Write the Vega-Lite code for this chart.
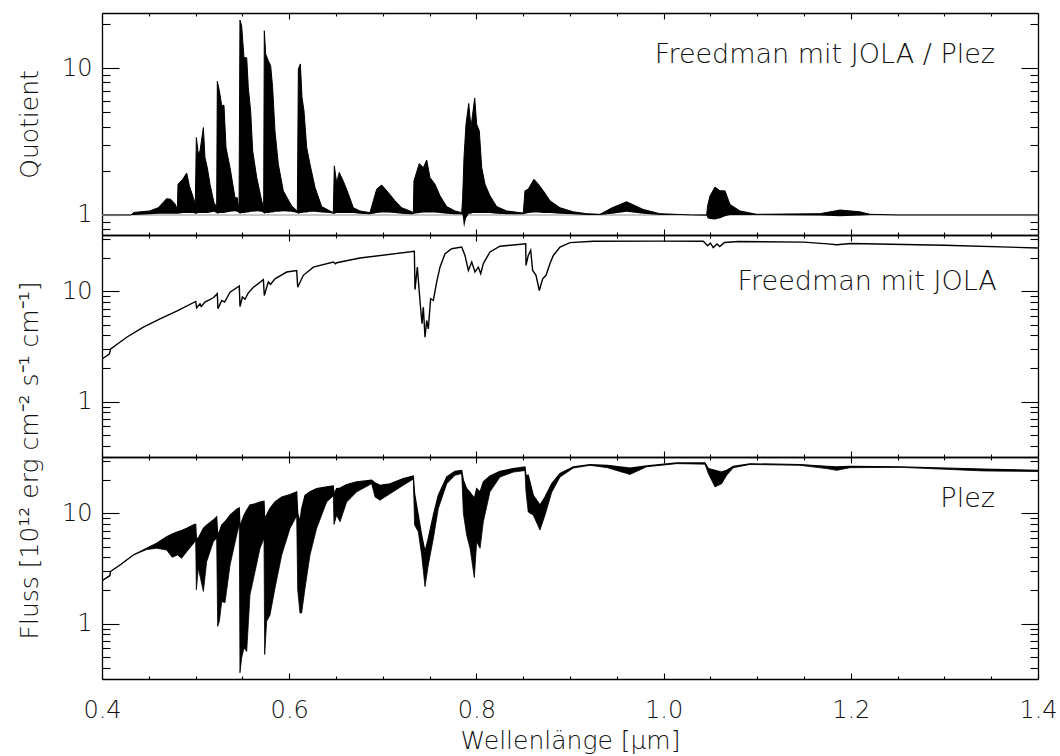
{
  "$schema": "https://vega.github.io/schema/vega-lite/v6.json",
  "background": "white",
  "padding": {"left": 16, "top": 12, "right": 5, "bottom": 5},
  "spacing": 0,
  "bounds": "flush",
  "config": {
    "view": {"stroke": null},
    "font": "DejaVu Sans",
    "axis": {"grid": false, "domainColor": "#000", "domainWidth": 1.3, "tickColor": "#000", "tickWidth": 1.1,
      "labelFont": "DejaVu Sans", "labelFontSize": 24, "labelFontWeight": 200, "labelColor": "#111",
      "titleFont": "DejaVu Sans", "titleFontSize": 25, "titleFontWeight": 200, "titleColor": "#111",
      "labelOverlap": false, "labelFlush": false}
  },
  "datasets": {
    "quot": [
      {"wl":0.4,"lo":1,"hi":1},{"wl":0.431,"lo":1,"hi":1},{"wl":0.434,"lo":1,"hi":1.04},{"wl":0.451,"lo":1.01,"hi":1.065},
      {"wl":0.46,"lo":1.02,"hi":1.12},{"wl":0.469,"lo":1.02,"hi":1.29},{"wl":0.4734,"lo":1.02,"hi":1.28},{"wl":0.478,"lo":1.02,"hi":1.19},
      {"wl":0.4805,"lo":1.02,"hi":1.09},{"wl":0.4812,"lo":1.02,"hi":1.62},{"wl":0.4862,"lo":1.03,"hi":1.75},{"wl":0.4905,"lo":1.03,"hi":1.93},
      {"wl":0.4933,"lo":1.03,"hi":1.58},{"wl":0.4976,"lo":1.03,"hi":1.31},{"wl":0.4997,"lo":1.02,"hi":1.19},{"wl":0.5008,"lo":1.02,"hi":3.37},
      {"wl":0.5029,"lo":1.03,"hi":2.6},{"wl":0.5047,"lo":1.03,"hi":2.73},{"wl":0.5083,"lo":1.03,"hi":3.94},{"wl":0.51,"lo":1.03,"hi":2.46},
      {"wl":0.5125,"lo":1.03,"hi":2.1},{"wl":0.5154,"lo":1.04,"hi":1.62},{"wl":0.5197,"lo":1.05,"hi":1.21},{"wl":0.5225,"lo":1.03,"hi":1.14},
      {"wl":0.5232,"lo":1.02,"hi":8.13},{"wl":0.5254,"lo":1.03,"hi":7.02},{"wl":0.5279,"lo":1.03,"hi":5.55},{"wl":0.5303,"lo":1.03,"hi":5.6},
      {"wl":0.5325,"lo":1.04,"hi":2.88},{"wl":0.5368,"lo":1.05,"hi":2.1},{"wl":0.5421,"lo":1.06,"hi":1.31},{"wl":0.5446,"lo":1.05,"hi":1.31},
      {"wl":0.5464,"lo":1.03,"hi":1.065},{"wl":0.5474,"lo":1.02,"hi":21.3},{"wl":0.5492,"lo":1.03,"hi":19.5},{"wl":0.5517,"lo":1.03,"hi":11.8},
      {"wl":0.5546,"lo":1.04,"hi":11.8},{"wl":0.5563,"lo":1.04,"hi":7.39},{"wl":0.5588,"lo":1.05,"hi":5.13},{"wl":0.561,"lo":1.05,"hi":2.73},
      {"wl":0.5653,"lo":1.06,"hi":1.8},{"wl":0.5706,"lo":1.05,"hi":1.25},{"wl":0.5727,"lo":1.03,"hi":1.12},{"wl":0.5734,"lo":1.02,"hi":18},
      {"wl":0.5749,"lo":1.03,"hi":12.5},{"wl":0.5777,"lo":1.03,"hi":11.25},{"wl":0.5802,"lo":1.04,"hi":10.4},{"wl":0.5823,"lo":1.04,"hi":7.39},
      {"wl":0.5848,"lo":1.05,"hi":3.74},{"wl":0.5884,"lo":1.05,"hi":2.22},{"wl":0.5937,"lo":1.06,"hi":1.46},{"wl":0.6027,"lo":1.05,"hi":1.15},
      {"wl":0.6087,"lo":1.03,"hi":1.065},{"wl":0.6098,"lo":1.02,"hi":9.87},{"wl":0.6119,"lo":1.03,"hi":10.7},{"wl":0.6137,"lo":1.03,"hi":6.31},
      {"wl":0.6158,"lo":1.04,"hi":5.13},{"wl":0.6187,"lo":1.04,"hi":2.88},{"wl":0.6222,"lo":1.05,"hi":2.22},{"wl":0.6276,"lo":1.05,"hi":1.54},
      {"wl":0.6347,"lo":1.04,"hi":1.14},{"wl":0.6436,"lo":1.03,"hi":1.065},{"wl":0.6471,"lo":1.02,"hi":1.037},{"wl":0.6482,"lo":1.02,"hi":2.16},
      {"wl":0.6507,"lo":1.03,"hi":1.66},{"wl":0.6535,"lo":1.03,"hi":1.95},{"wl":0.6578,"lo":1.03,"hi":1.7},{"wl":0.6631,"lo":1.03,"hi":1.4},
      {"wl":0.6685,"lo":1.03,"hi":1.12},{"wl":0.6756,"lo":1.02,"hi":1.065},{"wl":0.6863,"lo":1.01,"hi":1.037},{"wl":0.6899,"lo":1.02,"hi":1.25},
      {"wl":0.6935,"lo":1.03,"hi":1.5},{"wl":0.6988,"lo":1.04,"hi":1.6},{"wl":0.7059,"lo":1.04,"hi":1.42},{"wl":0.713,"lo":1.03,"hi":1.25},
      {"wl":0.7202,"lo":1.02,"hi":1.12},{"wl":0.729,"lo":1.01,"hi":1.065},{"wl":0.7326,"lo":1.01,"hi":1.037},{"wl":0.7333,"lo":1.02,"hi":1.71},
      {"wl":0.739,"lo":1.03,"hi":2.24},{"wl":0.7433,"lo":1.04,"hi":2.1},{"wl":0.7469,"lo":1.04,"hi":2.37},{"wl":0.7504,"lo":1.04,"hi":1.8},
      {"wl":0.7558,"lo":1.04,"hi":1.62},{"wl":0.7611,"lo":1.03,"hi":1.35},{"wl":0.7683,"lo":1.02,"hi":1.14},{"wl":0.7771,"lo":1.01,"hi":1.065},
      {"wl":0.7843,"lo":1.01,"hi":1.037},{"wl":0.7853,"lo":1,"hi":1.31},{"wl":0.7868,"lo":0.82,"hi":2.5},{"wl":0.7889,"lo":0.95,"hi":4.16},
      {"wl":0.7918,"lo":1.02,"hi":5.75},{"wl":0.7942,"lo":1.02,"hi":3.94},{"wl":0.796,"lo":1.03,"hi":4.87},{"wl":0.7982,"lo":1.03,"hi":6.26},
      {"wl":0.8003,"lo":1.03,"hi":4.16},{"wl":0.8031,"lo":1.03,"hi":3.74},{"wl":0.8057,"lo":1.03,"hi":2.1},{"wl":0.8092,"lo":1.03,"hi":1.62},
      {"wl":0.8145,"lo":1.03,"hi":1.35},{"wl":0.8217,"lo":1.02,"hi":1.14},{"wl":0.8324,"lo":1.01,"hi":1.065},{"wl":0.8501,"lo":1.01,"hi":1.03},
      {"wl":0.8519,"lo":1.02,"hi":1.46},{"wl":0.8554,"lo":1.03,"hi":1.5},{"wl":0.8615,"lo":1.04,"hi":1.75},{"wl":0.8662,"lo":1.04,"hi":1.62},
      {"wl":0.8715,"lo":1.03,"hi":1.46},{"wl":0.8786,"lo":1.03,"hi":1.25},{"wl":0.8893,"lo":1.02,"hi":1.12},{"wl":0.9036,"lo":1.01,"hi":1.05},
      {"wl":0.9178,"lo":1,"hi":1.02},{"wl":0.932,"lo":1,"hi":1.01},{"wl":0.945,"lo":1.02,"hi":1.12},{"wl":0.9605,"lo":1.05,"hi":1.23},
      {"wl":0.9783,"lo":1.02,"hi":1.09},{"wl":0.996,"lo":1,"hi":1.02},{"wl":1.03,"lo":1,"hi":1},{"wl":1.046,"lo":0.99,"hi":1},
      {"wl":1.047,"lo":0.95,"hi":1.15},{"wl":1.0496,"lo":0.94,"hi":1.35},{"wl":1.0549,"lo":0.93,"hi":1.55},{"wl":1.0603,"lo":0.95,"hi":1.46},
      {"wl":1.0656,"lo":0.98,"hi":1.46},{"wl":1.0709,"lo":1,"hi":1.18},{"wl":1.0816,"lo":1,"hi":1.065},{"wl":1.0995,"lo":1,"hi":1.01},
      {"wl":1.167,"lo":0.99,"hi":1.02},{"wl":1.1885,"lo":0.98,"hi":1.08},{"wl":1.2098,"lo":0.99,"hi":1.05},{"wl":1.2205,"lo":1,"hi":1.01},
      {"wl":1.25,"lo":1,"hi":1},{"wl":1.4,"lo":1,"hi":1}
    ],
    "jola": [
      {"wl":0.4,"f":2.44},{"wl":0.4078,"f":2.71},{"wl":0.4093,"f":3.01},{"wl":0.4264,"f":3.84},{"wl":0.4442,"f":4.74},
      {"wl":0.462,"f":5.65},{"wl":0.4798,"f":6.62},{"wl":0.5001,"f":8.11},{"wl":0.5011,"f":7.11},{"wl":0.5047,"f":7.73},
      {"wl":0.506,"f":7.3},{"wl":0.51,"f":8.0},{"wl":0.5189,"f":8.76},{"wl":0.5232,"f":9.53},{"wl":0.5239,"f":6.96},
      {"wl":0.5279,"f":8.28},{"wl":0.531,"f":8.0},{"wl":0.5368,"f":9.85},{"wl":0.5467,"f":11.2},{"wl":0.5474,"f":7.3},
      {"wl":0.55,"f":8.9},{"wl":0.5528,"f":8.5},{"wl":0.556,"f":9.6},{"wl":0.5617,"f":10.9},{"wl":0.5724,"f":12.8},
      {"wl":0.5734,"f":9.2},{"wl":0.5777,"f":12.2},{"wl":0.58,"f":11.6},{"wl":0.5848,"f":13.0},{"wl":0.5973,"f":15.0},
      {"wl":0.608,"f":15.5},{"wl":0.6091,"f":10.9},{"wl":0.6151,"f":14.0},{"wl":0.6258,"f":16.6},{"wl":0.6471,"f":18.5},
      {"wl":0.6495,"f":17.8},{"wl":0.6507,"f":18.2},{"wl":0.6756,"f":20.1},{"wl":0.7337,"f":23.1},{"wl":0.7344,"f":10.4},
      {"wl":0.7369,"f":16.6},{"wl":0.7397,"f":8.28},{"wl":0.7419,"f":5.09},{"wl":0.7433,"f":7.2},{"wl":0.7451,"f":3.84},
      {"wl":0.7469,"f":5.45},{"wl":0.7486,"f":4.58},{"wl":0.7511,"f":8.58},{"wl":0.754,"f":8.28},{"wl":0.7576,"f":12.2},
      {"wl":0.7611,"f":16.6},{"wl":0.7665,"f":22.0},{"wl":0.7736,"f":24.4},{"wl":0.7843,"f":25.3},{"wl":0.7878,"f":21.2},
      {"wl":0.7914,"f":15.5},{"wl":0.795,"f":18.5},{"wl":0.7985,"f":15.0},{"wl":0.8021,"f":16.6},{"wl":0.8046,"f":14.5},
      {"wl":0.8074,"f":17.9},{"wl":0.8145,"f":22.8},{"wl":0.8252,"f":25.7},{"wl":0.8527,"f":27.1},{"wl":0.853,"f":17.2},
      {"wl":0.8554,"f":21.2},{"wl":0.858,"f":23.6},{"wl":0.8601,"f":15.5},{"wl":0.8637,"f":14.0},{"wl":0.8672,"f":10.2},
      {"wl":0.8708,"f":13.0},{"wl":0.8744,"f":14.0},{"wl":0.8786,"f":17.9},{"wl":0.8822,"f":21.2},{"wl":0.8893,"f":25.3},
      {"wl":0.9,"f":27.7},{"wl":0.9249,"f":28.5},{"wl":0.9962,"f":28.6},{"wl":1.0424,"f":28.5},{"wl":1.047,"f":26.0},
      {"wl":1.05,"f":27.5},{"wl":1.053,"f":25.0},{"wl":1.057,"f":27.0},{"wl":1.06,"f":25.5},{"wl":1.065,"f":27.8},
      {"wl":1.08,"f":28.4},{"wl":1.15,"f":28.0},{"wl":1.175,"f":27.0},{"wl":1.185,"f":26.5},{"wl":1.2,"f":27.2},
      {"wl":1.3,"f":26.2},{"wl":1.4,"f":24.8}
    ],
    "plez": [
      {"wl":0.4,"lo":2.45,"hi":2.45},{"wl":0.4085,"lo":2.7,"hi":2.75},{"wl":0.409,"lo":2.97,"hi":2.97},{"wl":0.4192,"lo":3.41,"hi":3.41},
      {"wl":0.4335,"lo":4.2,"hi":4.2},{"wl":0.4477,"lo":4.7,"hi":4.83},{"wl":0.4584,"lo":4.83,"hi":5.36},{"wl":0.4691,"lo":4.66,"hi":6.15},
      {"wl":0.475,"lo":4.0,"hi":6.5},{"wl":0.4808,"lo":4.2,"hi":6.82},{"wl":0.485,"lo":3.92,"hi":7.0},{"wl":0.4905,"lo":4.5,"hi":7.32},
      {"wl":0.499,"lo":5.5,"hi":7.95},{"wl":0.5001,"lo":5.8,"hi":7.95},{"wl":0.5008,"lo":2.03,"hi":6.0},{"wl":0.5029,"lo":3.19,"hi":5.94},
      {"wl":0.5083,"lo":1.96,"hi":7.32},{"wl":0.5118,"lo":3.65,"hi":7.84},{"wl":0.5189,"lo":5.54,"hi":8.7},{"wl":0.5225,"lo":6.0,"hi":9.31},
      {"wl":0.5236,"lo":0.946,"hi":6.5},{"wl":0.5254,"lo":1.05,"hi":6.82},{"wl":0.5279,"lo":1.59,"hi":7.84},{"wl":0.5314,"lo":1.55,"hi":8.4},
      {"wl":0.5368,"lo":3.41,"hi":9.65},{"wl":0.5439,"lo":6.37,"hi":10.9},{"wl":0.5467,"lo":8.0,"hi":11.2},{"wl":0.5474,"lo":0.359,"hi":7.5},
      {"wl":0.5492,"lo":0.49,"hi":8.4},{"wl":0.5517,"lo":0.603,"hi":9.65},{"wl":0.5546,"lo":0.56,"hi":10.7},{"wl":0.5581,"lo":1.83,"hi":11.9},
      {"wl":0.5635,"lo":2.97,"hi":12.2},{"wl":0.5688,"lo":4.83,"hi":12.7},{"wl":0.5731,"lo":5.94,"hi":12.9},{"wl":0.5738,"lo":0.525,"hi":9.0},
      {"wl":0.5759,"lo":1.05,"hi":9.65},{"wl":0.5795,"lo":1.2,"hi":11.1},{"wl":0.5848,"lo":2.1,"hi":12.7},{"wl":0.592,"lo":4.2,"hi":14.1},
      {"wl":0.6009,"lo":7.32,"hi":14.8},{"wl":0.608,"lo":9.5,"hi":15.7},{"wl":0.6091,"lo":2.03,"hi":10.0},{"wl":0.6115,"lo":1.25,"hi":8.4},
      {"wl":0.6133,"lo":1.25,"hi":11.0},{"wl":0.6169,"lo":2.1,"hi":14.6},{"wl":0.6222,"lo":4.2,"hi":15.7},{"wl":0.6293,"lo":7.32,"hi":16.8},
      {"wl":0.64,"lo":12.7,"hi":17.4},{"wl":0.6471,"lo":14.5,"hi":17.8},{"wl":0.6479,"lo":7.95,"hi":15.0},{"wl":0.6507,"lo":9.65,"hi":16.8},
      {"wl":0.6543,"lo":8.4,"hi":17.0},{"wl":0.6614,"lo":12.7,"hi":18.3},{"wl":0.6721,"lo":15.7,"hi":19.3},{"wl":0.6881,"lo":18.6,"hi":20.0},
      {"wl":0.6917,"lo":14.1,"hi":19.0},{"wl":0.697,"lo":13.2,"hi":18.0},{"wl":0.7077,"lo":15.1,"hi":18.6},{"wl":0.7219,"lo":18.0,"hi":20.7},
      {"wl":0.7326,"lo":20.5,"hi":21.9},{"wl":0.734,"lo":7.84,"hi":15.1},{"wl":0.7379,"lo":6.82,"hi":9.65},{"wl":0.7415,"lo":4.2,"hi":6.37},
      {"wl":0.7451,"lo":2.17,"hi":4.5},{"wl":0.7486,"lo":3.41,"hi":5.94},{"wl":0.754,"lo":5.94,"hi":9.65},{"wl":0.7593,"lo":11.1,"hi":14.6},
      {"wl":0.7683,"lo":18.6,"hi":21.4},{"wl":0.7771,"lo":22.2,"hi":24.1},{"wl":0.7843,"lo":23.0,"hi":24.5},{"wl":0.7861,"lo":10.0,"hi":20.0},
      {"wl":0.7896,"lo":6.37,"hi":16.8},{"wl":0.7932,"lo":4.83,"hi":15.5},{"wl":0.7978,"lo":2.62,"hi":13.7},{"wl":0.8003,"lo":5.54,"hi":16.8},
      {"wl":0.8039,"lo":4.83,"hi":15.7},{"wl":0.8074,"lo":8.4,"hi":19.3},{"wl":0.8145,"lo":15.7,"hi":21.9},{"wl":0.8252,"lo":21.4,"hi":24.1},
      {"wl":0.8394,"lo":23.7,"hi":25.5},{"wl":0.8519,"lo":24.5,"hi":26.4},{"wl":0.853,"lo":15.7,"hi":22.0},{"wl":0.8554,"lo":10.3,"hi":22.2},
      {"wl":0.8608,"lo":9.65,"hi":14.6},{"wl":0.8679,"lo":7.07,"hi":11.9},{"wl":0.8733,"lo":9.65,"hi":14.1},{"wl":0.8804,"lo":15.5,"hi":18.6},
      {"wl":0.8893,"lo":21.4,"hi":23.0},{"wl":0.9036,"lo":25.8,"hi":26.4},{"wl":0.9214,"lo":27.3,"hi":27.7},{"wl":0.94,"lo":26.0,"hi":27.3},
      {"wl":0.9534,"lo":24.0,"hi":26.4},{"wl":0.9641,"lo":22.6,"hi":25.8},{"wl":0.9819,"lo":26.5,"hi":27.0},{"wl":1.014,"lo":28.3,"hi":28.7},
      {"wl":1.0442,"lo":28.0,"hi":28.7},{"wl":1.0478,"lo":23.0,"hi":25.5},{"wl":1.0549,"lo":17.4,"hi":24.6},{"wl":1.062,"lo":18.6,"hi":23.7},
      {"wl":1.0674,"lo":22.2,"hi":24.6},{"wl":1.0745,"lo":26.0,"hi":26.7},{"wl":1.0923,"lo":27.8,"hi":28.2},{"wl":1.1457,"lo":27.3,"hi":27.8},
      {"wl":1.1742,"lo":25.5,"hi":26.8},{"wl":1.1849,"lo":24.6,"hi":26.4},{"wl":1.1991,"lo":26.0,"hi":26.8},{"wl":1.2526,"lo":26.2,"hi":26.4},
      {"wl":1.3416,"lo":24.3,"hi":25.3},{"wl":1.4,"lo":24.0,"hi":24.6}
    ]
  },
  "vconcat": [
    {
      "width": 936, "height": 222,
      "layer": [
        {
          "data": {"name": "quot"},
          "layer": [
            {"data": {"values": [{}]}, "mark": {"type": "rule", "color": "#c8c8c8", "strokeWidth": 2}, "encoding": {"y": {"datum": 1}}},
            {"mark": {"type": "area", "color": "#000", "clip": true},
             "encoding": {
               "x": {"field": "wl", "type": "quantitative", "scale": {"domain": [0.4, 1.4], "nice": false, "zero": false},
                 "axis": {"orient": "bottom", "values": [0.4,0.45,0.5,0.55,0.6,0.65,0.7,0.75,0.8,0.85,0.9,0.95,1,1.05,1.1,1.15,1.2,1.25,1.3,1.35,1.4],
                   "tickSize": {"condition": {"test": "datum.value==0.4||datum.value==0.6||datum.value==0.8||datum.value==1||datum.value==1.2||datum.value==1.4", "value": -6}, "value": -3},
                   "labels": false, "title": null}},
               "y": {"field": "lo", "type": "quantitative", "scale": {"type": "log", "domain": [0.73, 23.8], "nice": false},
                 "axis": {"orient": "left", "values": [0.8,0.9,1,2,3,4,5,6,7,8,9,10,20],
                   "tickSize": {"condition": {"test": "datum.value==1||datum.value==10", "value": -17}, "value": -8},
                   "labelExpr": "datum.value==1 ? '1' : datum.value==10 ? '10' : ''", "labelPadding": 27, "labelBaseline": "middle",
                   "title": "Quotient", "titleX": -73, "titleBaseline": "middle"}},
               "y2": {"field": "hi"}
             }},
            {"mark": {"type": "line", "color": "#000", "strokeWidth": 1, "clip": true},
             "encoding": {"x": {"field": "wl", "type": "quantitative"}, "y": {"field": "hi", "type": "quantitative"}}},
            {"data": {"values": [{}]}, "mark": {"type": "text", "align": "right", "baseline": "alphabetic", "fontSize": 27, "font": "DejaVu Sans", "fontWeight": 200, "color": "#111"},
             "encoding": {"x": {"datum": 1.354}, "y": {"datum": 10.9}, "text": {"value": "Freedman mit JOLA / Plez"}}}
          ]
        },
        {
          "data": {"name": "quot"},
          "mark": {"type": "line", "strokeOpacity": 0},
          "encoding": {
            "x": {"field": "wl", "type": "quantitative", "scale": {"domain": [0.4, 1.4], "nice": false, "zero": false},
              "axis": {"orient": "top", "values": [0.4,0.45,0.5,0.55,0.6,0.65,0.7,0.75,0.8,0.85,0.9,0.95,1,1.05,1.1,1.15,1.2,1.25,1.3,1.35,1.4],
                "tickSize": {"condition": {"test": "datum.value==0.4||datum.value==0.6||datum.value==0.8||datum.value==1||datum.value==1.2||datum.value==1.4", "value": -6}, "value": -3},
                "labels": false, "title": null}},
            "y": {"field": "hi", "type": "quantitative", "scale": {"type": "log", "domain": [0.73, 23.8], "nice": false},
              "axis": {"orient": "right", "values": [0.8,0.9,1,2,3,4,5,6,7,8,9,10,20],
                "tickSize": {"condition": {"test": "datum.value==1||datum.value==10", "value": -17}, "value": -8},
                "labels": false, "title": null}}
          }
        }
      ],
      "resolve": {"scale": {"x": "independent", "y": "independent"}}
    },
    {
      "width": 936, "height": 222,
      "layer": [
        {
          "data": {"name": "jola"},
          "layer": [
            {"mark": {"type": "line", "color": "#000", "strokeWidth": 1.4, "clip": true},
             "encoding": {
               "x": {"field": "wl", "type": "quantitative", "scale": {"domain": [0.4, 1.4], "nice": false, "zero": false},
                 "axis": {"orient": "bottom", "values": [0.4,0.45,0.5,0.55,0.6,0.65,0.7,0.75,0.8,0.85,0.9,0.95,1,1.05,1.1,1.15,1.2,1.25,1.3,1.35,1.4],
                   "tickSize": {"condition": {"test": "datum.value==0.4||datum.value==0.6||datum.value==0.8||datum.value==1||datum.value==1.2||datum.value==1.4", "value": -6}, "value": -3},
                   "labels": false, "title": null}},
               "y": {"field": "f", "type": "quantitative", "scale": {"type": "log", "domain": [0.315, 32.5], "nice": false},
                 "axis": {"orient": "left", "values": [0.4,0.5,0.6,0.7,0.8,0.9,1,2,3,4,5,6,7,8,9,10,20,30],
                   "tickSize": {"condition": {"test": "datum.value==1||datum.value==10", "value": -17}, "value": -8},
                   "labelExpr": "datum.value==1 ? '1' : datum.value==10 ? '10' : ''", "labelPadding": 27, "labelBaseline": "middle",
                   "title": null}}
             }},
            {"data": {"values": [{}]}, "mark": {"type": "text", "align": "right", "baseline": "alphabetic", "fontSize": 27, "font": "DejaVu Sans", "fontWeight": 200, "color": "#111"},
             "encoding": {"x": {"datum": 1.356}, "y": {"datum": 10.4}, "text": {"value": "Freedman mit JOLA"}}}
          ]
        },
        {
          "data": {"name": "jola"},
          "mark": {"type": "line", "strokeOpacity": 0},
          "encoding": {
            "x": {"field": "wl", "type": "quantitative", "scale": {"domain": [0.4, 1.4], "nice": false, "zero": false},
              "axis": {"orient": "top", "values": [0.4,0.45,0.5,0.55,0.6,0.65,0.7,0.75,0.8,0.85,0.9,0.95,1,1.05,1.1,1.15,1.2,1.25,1.3,1.35,1.4],
                "tickSize": {"condition": {"test": "datum.value==0.4||datum.value==0.6||datum.value==0.8||datum.value==1||datum.value==1.2||datum.value==1.4", "value": -6}, "value": -3},
                "labels": false, "title": null}},
            "y": {"field": "f", "type": "quantitative", "scale": {"type": "log", "domain": [0.315, 32.5], "nice": false},
              "axis": {"orient": "right", "values": [0.4,0.5,0.6,0.7,0.8,0.9,1,2,3,4,5,6,7,8,9,10,20,30],
                "tickSize": {"condition": {"test": "datum.value==1||datum.value==10", "value": -17}, "value": -8},
                "labels": false, "title": null}}
          }
        }
      ],
      "resolve": {"scale": {"x": "independent", "y": "independent"}}
    },
    {
      "width": 936, "height": 222,
      "layer": [
        {
          "data": {"name": "plez"},
          "layer": [
            {"mark": {"type": "area", "color": "#000", "clip": true},
             "encoding": {
               "x": {"field": "wl", "type": "quantitative", "scale": {"domain": [0.4, 1.4], "nice": false, "zero": false},
                 "axis": {"orient": "bottom", "values": [0.4,0.45,0.5,0.55,0.6,0.65,0.7,0.75,0.8,0.85,0.9,0.95,1,1.05,1.1,1.15,1.2,1.25,1.3,1.35,1.4],
                   "tickSize": {"condition": {"test": "datum.value==0.4||datum.value==0.6||datum.value==0.8||datum.value==1||datum.value==1.2||datum.value==1.4", "value": -6}, "value": -3},
                   "labelExpr": "(datum.value==0.4||datum.value==0.6||datum.value==0.8||datum.value==1||datum.value==1.2||datum.value==1.4) ? format(datum.value, '.1f') : ''",
                   "labelPadding": 44, "labelBaseline": "alphabetic",
                   "title": "Wellenlänge [μm]", "titleY": 69, "titleBaseline": "alphabetic"}},
               "y": {"field": "lo", "type": "quantitative", "scale": {"type": "log", "domain": [0.315, 32.5], "nice": false},
                 "axis": {"orient": "left", "values": [0.4,0.5,0.6,0.7,0.8,0.9,1,2,3,4,5,6,7,8,9,10,20,30],
                   "tickSize": {"condition": {"test": "datum.value==1||datum.value==10", "value": -17}, "value": -8},
                   "labelExpr": "datum.value==1 ? '1' : datum.value==10 ? '10' : ''", "labelPadding": 27, "labelBaseline": "middle",
                   "title": "Fluss [10¹² erg cm⁻² s⁻¹ cm⁻¹]", "titleX": -73, "titleY": 3, "titleBaseline": "middle"}},
               "y2": {"field": "hi"}
             }},
            {"mark": {"type": "line", "color": "#000", "strokeWidth": 1.2, "clip": true},
             "encoding": {"x": {"field": "wl", "type": "quantitative"}, "y": {"field": "hi", "type": "quantitative"}}},
            {"mark": {"type": "line", "color": "#000", "strokeWidth": 0.8, "clip": true},
             "encoding": {"x": {"field": "wl", "type": "quantitative"}, "y": {"field": "lo", "type": "quantitative"}}},
            {"data": {"values": [{}]}, "mark": {"type": "text", "align": "right", "baseline": "alphabetic", "fontSize": 27, "font": "DejaVu Sans", "fontWeight": 200, "color": "#111"},
             "encoding": {"x": {"datum": 1.354}, "y": {"datum": 11.5}, "text": {"value": "Plez"}}}
          ]
        },
        {
          "data": {"name": "plez"},
          "mark": {"type": "line", "strokeOpacity": 0},
          "encoding": {
            "x": {"field": "wl", "type": "quantitative", "scale": {"domain": [0.4, 1.4], "nice": false, "zero": false},
              "axis": {"orient": "top", "values": [0.4,0.45,0.5,0.55,0.6,0.65,0.7,0.75,0.8,0.85,0.9,0.95,1,1.05,1.1,1.15,1.2,1.25,1.3,1.35,1.4],
                "tickSize": {"condition": {"test": "datum.value==0.4||datum.value==0.6||datum.value==0.8||datum.value==1||datum.value==1.2||datum.value==1.4", "value": -6}, "value": -3},
                "labels": false, "title": null}},
            "y": {"field": "hi", "type": "quantitative", "scale": {"type": "log", "domain": [0.315, 32.5], "nice": false},
              "axis": {"orient": "right", "values": [0.4,0.5,0.6,0.7,0.8,0.9,1,2,3,4,5,6,7,8,9,10,20,30],
                "tickSize": {"condition": {"test": "datum.value==1||datum.value==10", "value": -17}, "value": -8},
                "labels": false, "title": null}}
          }
        }
      ],
      "resolve": {"scale": {"x": "independent", "y": "independent"}}
    }
  ]
}
